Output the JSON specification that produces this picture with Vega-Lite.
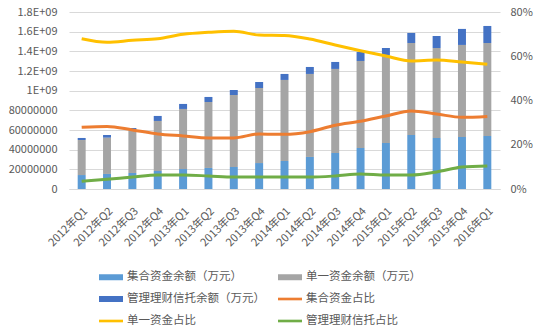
{
  "$schema": "https://vega.github.io/schema/vega-lite/v6.json",
  "width": 431,
  "height": 177,
  "autosize": "none",
  "padding": {"left": 69, "top": 12, "right": 46, "bottom": 142},
  "background": "white",
  "config": {
    "view": {"stroke": null},
    "font": "Noto Sans CJK SC",
    "axis": {"labelColor": "#595959", "labelFontSize": 11, "ticks": false, "title": null, "gridColor": "#D9D9D9", "labelOverlap": false},
    "legend": {"orient": "none", "legendX": 30, "legendY": 253, "columns": 2,
               "symbolSize": 576, "symbolOpacity": 1, "symbolStrokeWidth": 0,
               "labelFontSize": 11.5, "labelColor": "#595959", "labelOffset": 4, "labelLimit": 300,
               "columnPadding": 13, "rowPadding": 4}
  },
  "data": {
    "values": [
      {"q": "2012年Q1", "集合资金余额（万元）": 142000000, "单一资金余额（万元）": 356000000, "管理理财信托余额（万元）": 21000000, "集合资金占比": 0.279, "单一资金占比": 0.679, "管理理财信托占比": 0.035},
      {"q": "2012年Q2", "集合资金余额（万元）": 153000000, "单一资金余额（万元）": 369000000, "管理理财信托余额（万元）": 27000000, "集合资金占比": 0.283, "单一资金占比": 0.663, "管理理财信托占比": 0.044},
      {"q": "2012年Q3", "集合资金余额（万元）": 163000000, "单一资金余额（万元）": 444000000, "管理理财信托余额（万元）": 13000000, "集合资金占比": 0.267, "单一资金占比": 0.672, "管理理财信托占比": 0.054},
      {"q": "2012年Q4", "集合资金余额（万元）": 183000000, "单一资金余额（万元）": 509000000, "管理理财信托余额（万元）": 51000000, "集合资金占比": 0.249, "单一资金占比": 0.679, "管理理财信托占比": 0.063},
      {"q": "2013年Q1", "集合资金余额（万元）": 203000000, "单一资金余额（万元）": 611000000, "管理理财信托余额（万元）": 51000000, "集合资金占比": 0.240, "单一资金占比": 0.699, "管理理财信托占比": 0.063},
      {"q": "2013年Q2", "集合资金余额（万元）": 214000000, "单一资金余额（万元）": 671000000, "管理理财信托余额（万元）": 51000000, "集合资金占比": 0.231, "单一资金占比": 0.708, "管理理财信托占比": 0.059},
      {"q": "2013年Q3", "集合资金余额（万元）": 224000000, "单一资金余额（万元）": 732000000, "管理理财信托余额（万元）": 51000000, "集合资金占比": 0.231, "单一资金占比": 0.713, "管理理财信托占比": 0.054},
      {"q": "2013年Q4", "集合资金余额（万元）": 264000000, "单一资金余额（万元）": 763000000, "管理理财信托余额（万元）": 61000000, "集合资金占比": 0.249, "单一资金占比": 0.696, "管理理财信托占比": 0.054},
      {"q": "2014年Q1", "集合资金余额（万元）": 285000000, "单一资金余额（万元）": 824000000, "管理理财信托余额（万元）": 61000000, "集合资金占比": 0.247, "单一资金占比": 0.694, "管理理财信托占比": 0.054},
      {"q": "2014年Q2", "集合资金余额（万元）": 326000000, "单一资金余额（万元）": 844000000, "管理理财信托余额（万元）": 71000000, "集合资金占比": 0.259, "单一资金占比": 0.678, "管理理财信托占比": 0.054},
      {"q": "2014年Q3", "集合资金余额（万元）": 366000000, "单一资金余额（万元）": 855000000, "管理理财信托余额（万元）": 71000000, "集合资金占比": 0.288, "单一资金占比": 0.651, "管理理财信托占比": 0.059},
      {"q": "2014年Q4", "集合资金余额（万元）": 417000000, "单一资金余额（万元）": 885000000, "管理理财信托余额（万元）": 92000000, "集合资金占比": 0.306, "单一资金占比": 0.625, "管理理财信托占比": 0.068},
      {"q": "2015年Q1", "集合资金余额（万元）": 468000000, "单一资金余额（万元）": 895000000, "管理理财信托余额（万元）": 71000000, "集合资金占比": 0.330, "单一资金占比": 0.601, "管理理财信托占比": 0.063},
      {"q": "2015年Q2", "集合资金余额（万元）": 549000000, "单一资金余额（万元）": 936000000, "管理理财信托余额（万元）": 102000000, "集合资金占比": 0.353, "单一资金占比": 0.579, "管理理财信托占比": 0.063},
      {"q": "2015年Q3", "集合资金余额（万元）": 519000000, "单一资金余额（万元）": 915000000, "管理理财信托余额（万元）": 122000000, "集合资金占比": 0.339, "单一资金占比": 0.583, "管理理财信托占比": 0.077},
      {"q": "2015年Q4", "集合资金余额（万元）": 529000000, "单一资金余额（万元）": 936000000, "管理理财信托余额（万元）": 163000000, "集合资金占比": 0.324, "单一资金占比": 0.574, "管理理财信托占比": 0.099},
      {"q": "2016年Q1", "集合资金余额（万元）": 539000000, "单一资金余额（万元）": 946000000, "管理理财信托余额（万元）": 173000000, "集合资金占比": 0.328, "单一资金占比": 0.564, "管理理财信托占比": 0.104}
    ]
  },
  "layer": [
    {
      "transform": [
        {"fold": ["集合资金余额（万元）", "单一资金余额（万元）", "管理理财信托余额（万元）"], "as": ["s", "v"]},
        {"calculate": "indexof(['集合资金余额（万元）', '单一资金余额（万元）', '管理理财信托余额（万元）'], datum.s)", "as": "o"}
      ],
      "mark": {"type": "bar"},
      "encoding": {
        "x": {"field": "q", "type": "nominal", "sort": null,
              "scale": {"paddingInner": 0.685, "paddingOuter": 0.3425},
              "axis": {"labelAngle": -45, "domain": true, "domainColor": "#D9D9D9", "labelPadding": 16, "grid": false}},
        "y": {"field": "v", "type": "quantitative", "stack": "zero",
              "scale": {"domain": [0, 1800000000], "nice": false},
              "axis": {"orient": "left", "values": [0, 200000000, 400000000, 600000000, 800000000, 1000000000, 1200000000, 1400000000, 1600000000, 1800000000],
                       "labelExpr": "datum.value == 0 ? '0' : (datum.value < 1000000000 ? format(datum.value / 10, 'd') : format(datum.value / 1000000000, '.2~g') + 'E+09')",
                       "domain": false, "grid": true, "labelPadding": 12}},
        "color": {"field": "s", "type": "nominal", "title": null,
                  "scale": {"domain": ["集合资金余额（万元）", "管理理财信托余额（万元）", "单一资金占比", "单一资金余额（万元）", "集合资金占比", "管理理财信托占比"],
                            "range": ["#5B9BD5", "#4472C4", "#FFC000", "#A5A5A5", "#ED7D31", "#70AD47"]}},
        "order": {"field": "o", "type": "quantitative"}
      }
    },
    {
      "transform": [
        {"fold": ["集合资金占比", "单一资金占比", "管理理财信托占比"], "as": ["s", "v"]}
      ],
      "layer": [
        {
          "mark": {"type": "line", "strokeWidth": 3, "interpolate": "monotone"},
          "encoding": {
            "x": {"field": "q", "type": "nominal", "sort": null},
            "y": {"field": "v", "type": "quantitative",
                  "scale": {"domain": [0, 0.8], "nice": false},
                  "axis": {"orient": "right", "values": [0, 0.1, 0.2, 0.3, 0.4, 0.5, 0.6, 0.7, 0.8], "format": ".0%", "domain": false, "grid": false, "labelPadding": 10}},
            "color": {"field": "s", "type": "nominal", "title": null}
          }
        },
        {
          "mark": {"type": "point", "filled": true, "opacity": 0},
          "encoding": {
            "x": {"field": "q", "type": "nominal", "sort": null},
            "y": {"field": "v", "type": "quantitative"},
            "color": {"field": "s", "type": "nominal", "title": null},
            "shape": {"field": "s", "type": "nominal", "title": null,
                      "scale": {"domain": ["集合资金余额（万元）", "管理理财信托余额（万元）", "单一资金占比", "单一资金余额（万元）", "集合资金占比", "管理理财信托占比"],
                                "range": ["M-1,-0.25H1V0.25H-1Z", "M-1,-0.25H1V0.25H-1Z", "M-1,-0.11H1V0.11H-1Z", "M-1,-0.25H1V0.25H-1Z", "M-1,-0.11H1V0.11H-1Z", "M-1,-0.11H1V0.11H-1Z"]}}
          }
        }
      ]
    }
  ],
  "resolve": {"scale": {"y": "independent"}}
}
